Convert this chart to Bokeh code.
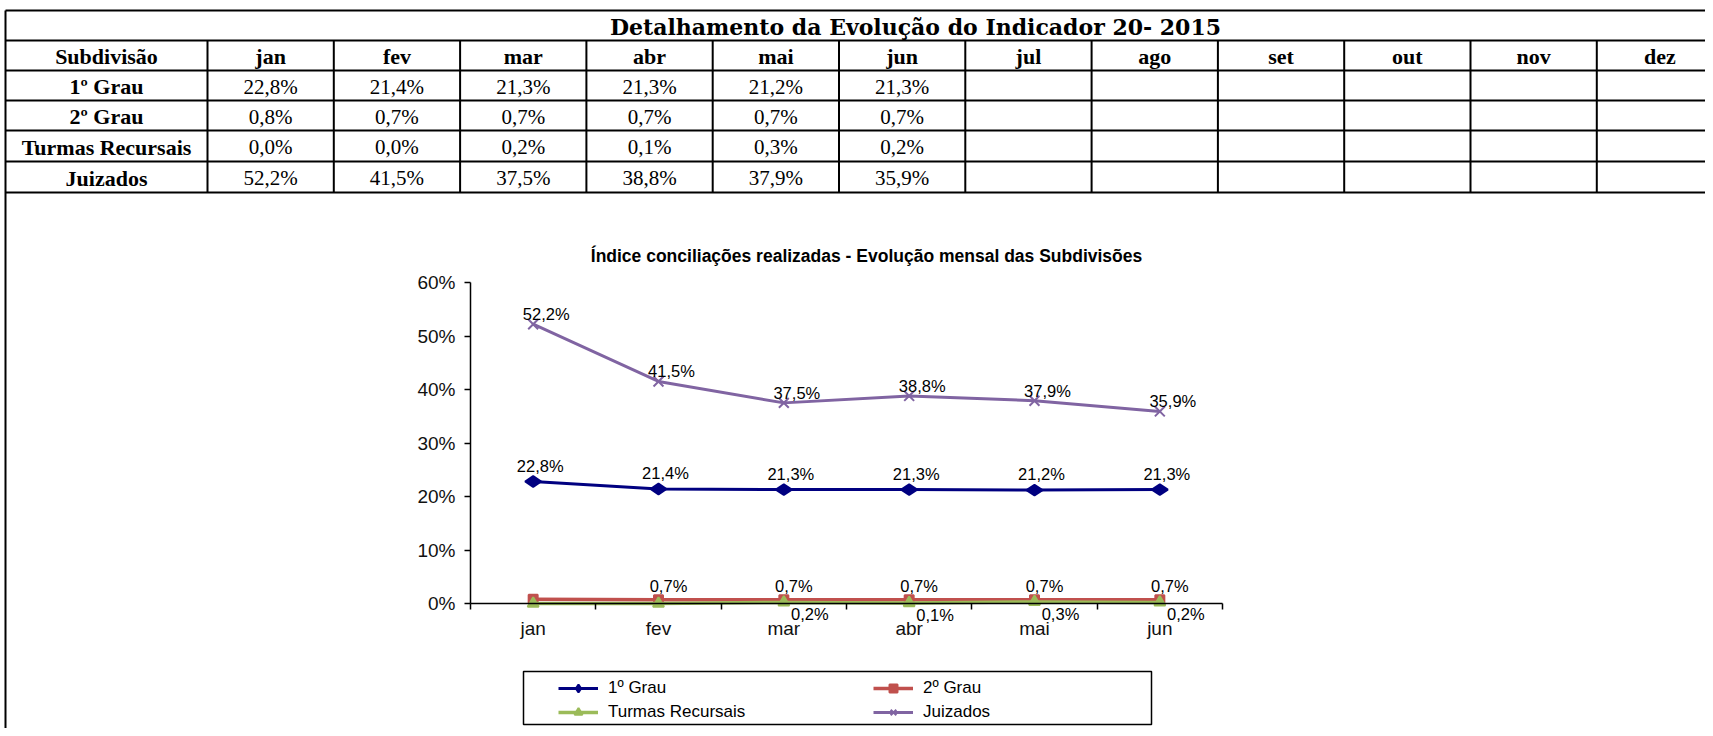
import numpy as np
from bokeh.plotting import figure
from bokeh.models import (Range1d, LinearAxis, FixedTicker, PrintfTickFormatter,
                          CustomJSTickFormatter, Legend, LegendItem)
from bokeh.core.properties import value
from bokeh.embed import file_html
from bokeh.resources import INLINE

# ---------------- data ----------------
months = ["jan", "fev", "mar", "abr", "mai", "jun", "jul", "ago", "set", "out", "nov", "dez"]
chart_months = months[:6]
series = ["1º Grau", "2º Grau", "Turmas Recursais", "Juizados"]
grau1 = [22.8, 21.4, 21.3, 21.3, 21.2, 21.3]
grau2 = [0.8, 0.7, 0.7, 0.7, 0.7, 0.7]
turmas = [0.0, 0.0, 0.2, 0.1, 0.3, 0.2]
juizados = [52.2, 41.5, 37.5, 38.8, 37.9, 35.9]
# which data labels Excel shows (False = hidden)
shown_grau1 = [True] * 6
shown_grau2 = [False, True, True, True, True, True]
shown_turmas = [False, False, True, True, True, True]
shown_juiz = [True] * 6
table_title = "Detalhamento da Evolução do Indicador 20- 2015"
table_header = "Subdivisão"
chart_title = "Índice conciliações realizadas - Evolução mensal das Subdivisões"
y_ticks = [0, 10, 20, 30, 40, 50, 60]


def fmt(v):
    return f"{v:.1f}%".replace(".", ",")


# ---------------- geometry (screen px) ----------------
W, H = 1705, 728
X0, X1 = 0, W
Y0, Y1 = 0, H
AX_L, AX_R = 470, 1222
AX_TOP, AX_BOT = 282, 603
YMAX = 60
NCAT = 6
px_cat = (AX_R - AX_L) / NCAT
px_pct = (AX_BOT - AX_TOP) / YMAX

p = figure(width=W, height=H, output_backend="svg", toolbar_location=None,
           title=None, min_border=0,
           x_range=Range1d((X0 - AX_L) / px_cat, (X1 - AX_L) / px_cat),
           y_range=Range1d((AX_BOT - Y1) / px_pct, (AX_BOT - Y0) / px_pct),
           x_axis_location=None, y_axis_location=None)
p.min_border_left = p.min_border_right = p.min_border_top = p.min_border_bottom = 0
p.extra_x_ranges = {"px": Range1d(X0, X1)}
p.extra_y_ranges = {"py": Range1d(Y1, Y0)}
p.outline_line_color = None
p.background_fill_color = "white"
p.border_fill_color = "white"
p.xgrid.visible = False
p.ygrid.visible = False

PX = dict(x_range_name="px", y_range_name="py")

# ---------------- table ----------------
COL0, COLW = 207, 126.3
col_edges = [5] + [COL0 + COLW * k for k in range(12)]
row_edges = [10, 40, 70, 100, 130, 161, 192]
# horizontal lines
p.segment(x0=[col_edges[0]] * len(row_edges), x1=[X1] * len(row_edges),
          y0=row_edges, y1=row_edges, line_color="black", line_width=2, **PX)
# outer left border (continues to the bottom)
p.segment(x0=[col_edges[0]], x1=[col_edges[0]], y0=[row_edges[0]], y1=[Y1],
          line_color="black", line_width=2, **PX)
# inner vertical lines
p.segment(x0=col_edges[1:], x1=col_edges[1:], y0=[row_edges[1]] * (len(col_edges) - 1),
          y1=[row_edges[-1]] * (len(col_edges) - 1), line_color="black", line_width=2, **PX)

centers_x = [(col_edges[i] + col_edges[i + 1]) / 2 for i in range(len(col_edges) - 1)]
centers_x.append(col_edges[-1] + COLW / 2)
centers_y = [(row_edges[i] + row_edges[i + 1]) / 2 + 1 for i in range(len(row_edges) - 1)]

serif = value("Liberation Serif")
p.text(x=[915], y=[centers_y[0]], text=[table_title], text_font=value("DejaVu Serif"),
       text_font_style="bold", text_font_size="22px", text_align="center",
       text_baseline="middle", **PX)
p.text(x=centers_x, y=[centers_y[1]] * 13, text=[table_header] + months, text_font=serif,
       text_font_style="bold", text_font_size="22px", text_align="center",
       text_baseline="middle", **PX)
p.text(x=[centers_x[0]] * 4, y=centers_y[2:], text=series, text_font=serif,
       text_font_style="bold", text_font_size="22px", text_align="center",
       text_baseline="middle", **PX)
vx, vy, vt = [], [], []
for r, vals in enumerate([grau1, grau2, turmas, juizados]):
    for c, v in enumerate(vals):
        vx.append(centers_x[c + 1])
        vy.append(centers_y[r + 2])
        vt.append(fmt(v))
p.text(x=vx, y=vy, text=vt, text_font=serif, text_font_size="21px",
       text_align="center", text_baseline="middle", **PX)

# ---------------- chart ----------------
p.text(x=[866], y=[255], text=[chart_title], text_font=value("Liberation Sans"),
       text_font_style="bold", text_font_size="17.5px", text_align="center",
       text_baseline="middle", **PX)

xs = [i + 0.5 for i in range(NCAT)]
styles = [
    dict(vals=grau1, color="#000080", marker="diamond", size=16, angle=np.pi / 2,
         shown=shown_grau1, dx=7, dy=-16, lw=3),
    dict(vals=grau2, color="#C0504D", marker="square", size=9, angle=0,
         shown=shown_grau2, dx=10, dy=-14, lw=3.5),
    dict(vals=turmas, color="#9BBB59", marker="triangle", size=11, angle=0,
         shown=shown_turmas, dx=26, dy=12, lw=3.5),
    dict(vals=juizados, color="#8064A2", marker="x", size=14, angle=0,
         shown=shown_juiz, dx=13, dy=-10, lw=3),
]
renderers = []
for st in styles:
    lr = p.line(xs, st["vals"], line_color=st["color"], line_width=st["lw"])
    sr = p.scatter(xs, st["vals"], marker=st["marker"], size=st["size"], angle=st["angle"],
                   fill_color=st["color"], line_color=st["color"], line_width=2)
    renderers.append([lr, sr])

for st in styles:
    lx = [x for x, s in zip(xs, st["shown"]) if s]
    ly = [v for v, s in zip(st["vals"], st["shown"]) if s]
    lt = [fmt(v) for v, s in zip(st["vals"], st["shown"]) if s]
    p.text(x=lx, y=ly, text=lt, x_offset=st["dx"], y_offset=st["dy"],
           text_font=value("Liberation Sans"), text_font_size="16.5px", text_color="black",
           text_align="center", text_baseline="middle")

# axes
yaxis = LinearAxis(fixed_location=0, bounds=(0, YMAX), ticker=FixedTicker(ticks=y_ticks),
                   formatter=PrintfTickFormatter(format="%d%%"))
xaxis = LinearAxis(fixed_location=0, bounds=(0, NCAT), ticker=FixedTicker(ticks=list(range(NCAT + 1))),
                   formatter=CustomJSTickFormatter(code="return '';"))
xlab = LinearAxis(fixed_location=0, bounds=(0, NCAT), ticker=FixedTicker(ticks=xs),
                  formatter=CustomJSTickFormatter(args=dict(cats=chart_months),
                                                  code="return cats[Math.floor(tick)] || '';"))
for ax in (yaxis, xaxis, xlab):
    ax.axis_line_color = "black"
    ax.axis_line_width = 1.5
    ax.major_tick_line_color = "black"
    ax.major_tick_line_width = 1.5
    ax.major_tick_in = 0
    ax.major_tick_out = 6
    ax.minor_tick_line_color = None
    ax.major_label_text_font = "Liberation Sans"
    ax.major_label_text_font_size = "19px"
    ax.major_label_text_color = "#111111"
yaxis.major_label_standoff = 9
xlab.axis_line_color = None
xlab.major_tick_line_color = None
xlab.major_tick_out = 0
xlab.major_label_standoff = 14
p.add_layout(yaxis, "left")
p.add_layout(xaxis, "below")
p.add_layout(xlab, "below")

# legend box
p.quad(left=[523], right=[1151], top=[671], bottom=[724], fill_color=None,
       line_color="black", line_width=1.5, **PX)


def make_legend(idx, left_px):
    items = [LegendItem(label=series[i], renderers=renderers[i]) for i in idx]
    leg = Legend(items=items, location=(left_px - X0, Y1 - 722), orientation="vertical")
    leg.glyph_width = 40
    leg.glyph_height = 20
    leg.label_height = 20
    leg.label_standoff = 10
    leg.spacing = 4
    leg.padding = 0
    leg.margin = 0
    leg.border_line_color = None
    leg.background_fill_alpha = 0
    leg.label_text_font = "Liberation Sans"
    leg.label_text_font_size = "17px"
    leg.label_text_color = "black"
    return leg


p.add_layout(make_legend([0, 2], 558))
p.add_layout(make_legend([1, 3], 873))

open("out.html", "w").write(file_html(p, INLINE))
